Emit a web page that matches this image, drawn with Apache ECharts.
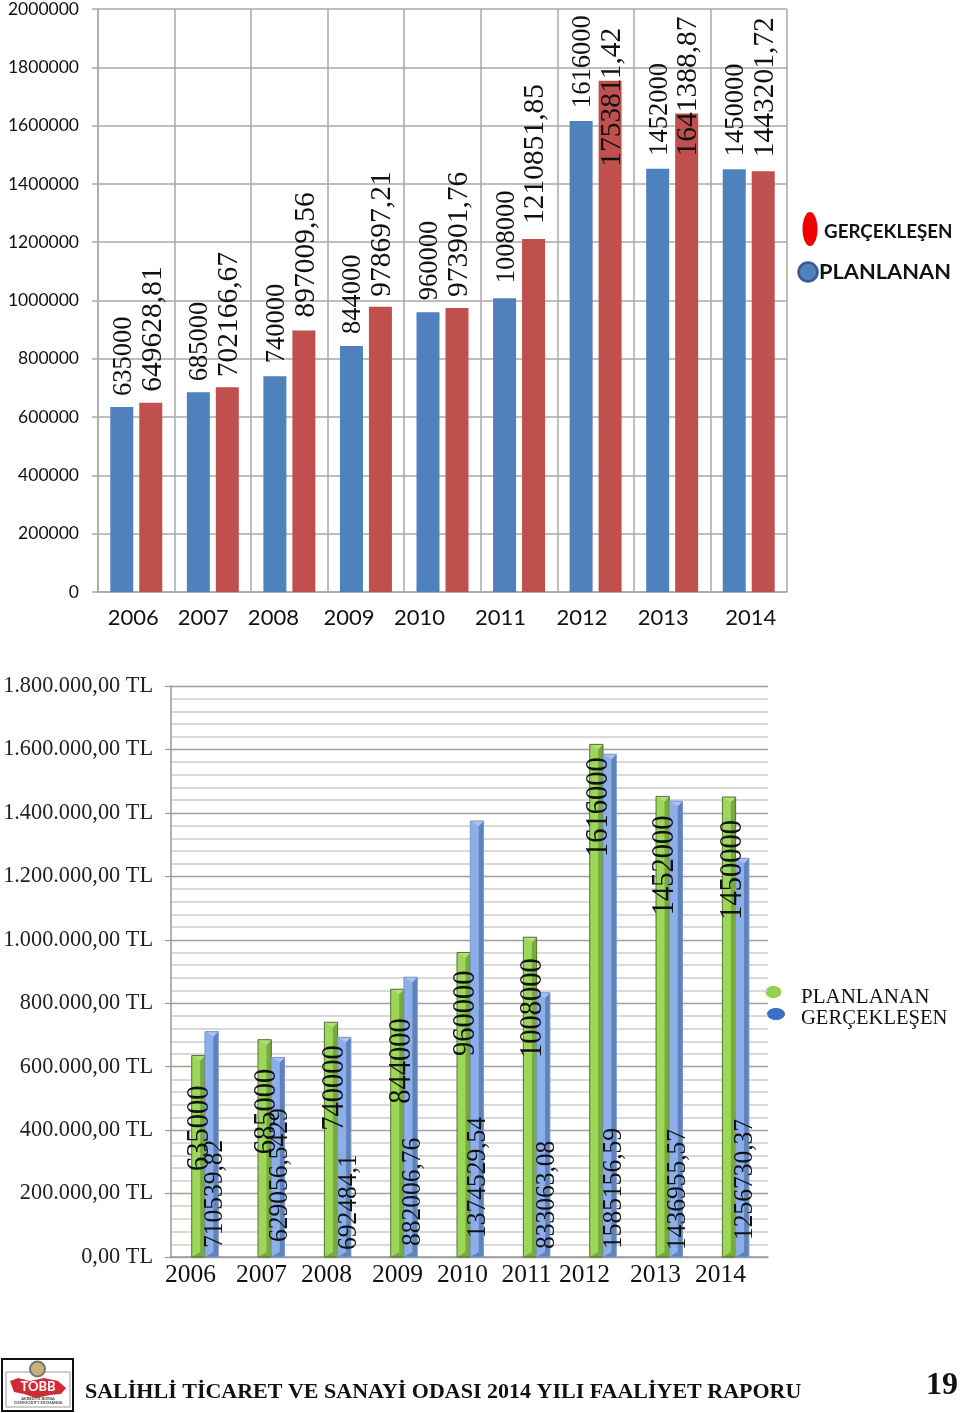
<!DOCTYPE html>
<html><head><meta charset="utf-8">
<style>html,body{margin:0;padding:0;background:#fff}#c{width:960px;height:1413px}</style>
<script src="https://cdn.jsdelivr.net/npm/echarts@6/dist/echarts.min.js"></script>
</head><body><div id="c"></div>
<script>
const years = ['2006','2007','2008','2009','2010','2011','2012','2013','2014'];
const planlananTop = [635000,685000,740000,844000,960000,1008000,1616000,1452000,1450000];
const gerceklesenTop = [649628.81,702166.67,897009.56,978697.21,973901.76,1210851.85,1753811.42,1641388.87,1443201.72];
const planlananBottom = [635000,685000,740000,844000,960000,1008000,1616000,1452000,1450000];
const gerceklesenBottom = [710539.82,629056.5429,692484.1,882006.76,1374529.54,833063.08,1585156.59,1436955.57,1256730.37];

// label placement tweaks (px) copied from the source document
const blueGapTop = [11,11,13,12,12,15,13,13,13];
const redGapTop = [11,10,13,10,11,15,-86,-43,14];
const yearShiftTop = [-3,-9.5,-16,-17,-23,-18.5,-13.5,-9,2];
const yearShiftBottom = [-13.7,-9,-10.3,-5.7,-7,-9.3,-17.7,-13,-14.3];
const greenLabelDrop = [30,29,23,29,18,21,13,19,23];
const greenLabelDx = [0,1,2,3,1,1,1,1,2];
const blueLabelLift = [9,15,7,11,19,8,8,7,17];
const blueLabelDx = [1.5,1,3,0.5,0,2,2.5,1,1];

const SERIF = '"Liberation Serif","Times New Roman",serif';
const commaText = v => String(v).replace('.', ',');
const tlText = v => {
  const s = String(Math.round(v)).replace(/\B(?=(\d{3})+$)/g, '.');
  return s + ',00 TL';
};
const shiftedYears = (shifts) => years.map((y, i) => ({
  value: y,
  textStyle: { padding: shifts[i] < 0 ? [0, -2 * shifts[i], 0, 0] : [0, 0, 0, 2 * shifts[i]] }
}));

function topSeries(name, values, color, gaps, size) {
  return {
    name, type: 'bar', xAxisIndex: 0, yAxisIndex: 0, barWidth: 23, barGap: '26%',
    itemStyle: { color },
    data: values.map((v, i) => ({
      value: v,
      label: {
        show: true, position: 'top', distance: gaps[i], rotate: 90, align: 'left', verticalAlign: 'middle',
        offset: [0, 2], fontFamily: SERIF, fontSize: size, color: '#111', formatter: commaText(v)
      }
    })),
    z: 3
  };
}

function bevelSeries(name, values, pal, side, labelFn) {
  return {
    name, type: 'custom', xAxisIndex: 1, yAxisIndex: 1, silent: true, clip: false,
    data: values.map((v, i) => [i, v]),
    encode: { x: 0, y: 1 },
    renderItem(params, api) {
      const i = api.value(0), v = api.value(1);
      const top = api.coord([i, v]), base = api.coord([i, 0]);
      const w = api.size([1, 0])[0] * 0.2;
      const x0 = (side < 0 ? top[0] - w : top[0]) + 0.8;
      const xm = x0 + w * 0.64, x1 = x0 + w, yT = top[1], yB = base[1], d = 5;
      const lw = { lineWidth: 0 };
      const children = [
        { type: 'rect', shape: { x: x0, y: yT, width: w, height: yB - yT }, style: { fill: pal.face } },
        { type: 'polygon', shape: { points: [[xm, yT + d], [x1, yT], [x1, yB], [xm, yB - d]] }, style: { fill: pal.side, ...lw } },
        { type: 'polygon', shape: { points: [[x0, yT], [x1, yT], [xm, yT + d]] }, style: { fill: pal.top, ...lw } },
        { type: 'polygon', shape: { points: [[x0, yB], [x1, yB], [xm, yB - d]] }, style: { fill: pal.side, ...lw } },
        { type: 'rect', shape: { x: x0, y: yT, width: w, height: yB - yT }, style: { fill: 'none', stroke: pal.line, lineWidth: 1 } }
      ];
      children.push(Object.assign({ type: 'text', rotation: Math.PI / 2, z2: 50 }, labelFn(i, v, x0 + w / 2, yT, yB)));
      return { type: 'group', children };
    },
    z: 3
  };
}

const greenPal = { face: '#9dd75a', side: '#78a93c', top: '#b3df80', line: '#55702f' };
const bluePal = { face: '#8cafec', side: '#5f82ba', top: '#a8c3f0', line: '#7a97c6' };

const gridLine = { lineStyle: { color: '#a8a8a8', width: 1.5 } };

const option = {
  animation: false,
  backgroundColor: '#fff',
  grid: [
    { left: 98, top: 8, width: 689, height: 584 },
    { left: 171, top: 686, width: 597, height: 571 }
  ],
  xAxis: [
    {
      type: 'category', gridIndex: 0, data: shiftedYears(yearShiftTop),
      axisLine: gridLine, axisTick: { show: false },
      splitLine: { show: true, interval: 0, lineStyle: { color: '#a8a8a8', width: 1.5 } },
      axisLabel: { interval: 0, margin: 15, fontFamily: 'Lato', fontSize: 22, color: '#111', hideOverlap: false }
    },
    {
      type: 'category', gridIndex: 1, data: shiftedYears(yearShiftBottom),
      axisLine: { lineStyle: { color: '#9a9a9a', width: 1.5 } }, axisTick: { show: false }, splitLine: { show: false },
      axisLabel: { interval: 0, margin: 5, fontFamily: SERIF, fontSize: 25.5, color: '#111', hideOverlap: false }
    }
  ],
  yAxis: [
    {
      type: 'value', gridIndex: 0, min: 0, max: 2000000, interval: 200000,
      axisLine: { show: true, ...gridLine },
      axisTick: { show: true, length: 6, lineStyle: { color: '#a8a8a8', width: 1.5 } },
      splitLine: { show: true, lineStyle: { color: '#a8a8a8', width: 1.5 } },
      axisLabel: { margin: 19, fontFamily: 'Lato', fontSize: 17.5, color: '#111', formatter: v => String(v) }
    },
    {
      type: 'value', gridIndex: 1, min: 0, max: 1800000, interval: 200000,
      axisLine: { show: true, lineStyle: { color: '#9a9a9a', width: 1.5 } },
      axisTick: { show: true, length: 6, lineStyle: { color: '#9a9a9a', width: 1.2 } },
      minorTick: { show: false, splitNumber: 5 },
      minorSplitLine: { show: true, lineStyle: { color: '#cccccc', width: 1.6 } },
      splitLine: { show: true, lineStyle: { color: '#a0a0a0', width: 1.4 } },
      axisLabel: { margin: 18, fontFamily: SERIF, fontSize: 22.3, color: '#222', formatter: tlText }
    }
  ],
  series: [
    topSeries('PLANLANAN', planlananTop, '#4f81bd', blueGapTop, 26.5),
    topSeries('GERÇEKLEŞEN', gerceklesenTop, '#c0504d', redGapTop, 29.5),
    bevelSeries('PLANLANAN', planlananBottom, greenPal, -1, (i, v, cx, yT) => ({
      x: cx + greenLabelDx[i] + 1.5, y: yT + greenLabelDrop[i], scaleY: 1.1,
      style: { text: String(v), fill: '#111', font: '28.5px ' + SERIF, align: 'right', verticalAlign: 'middle' }
    })),
    bevelSeries('GERÇEKLEŞEN', gerceklesenBottom, bluePal, 1, (i, v, cx, yT, yB) => ({
      x: cx + blueLabelDx[i] + 1.5, y: yB - blueLabelLift[i], scaleY: 1.05,
      style: { text: commaText(v), fill: '#111', font: '25.5px ' + SERIF, align: 'left', verticalAlign: 'middle' }
    }))
  ],
  graphic: [
    // top legend
    { type: 'ellipse', shape: { cx: 810, cy: 229, rx: 7.5, ry: 17 }, style: { fill: '#f00000' } },
    { type: 'text', x: 824, y: 232, style: { text: 'GERÇEKLEŞEN', font: 'bold 18.8px Lato', fill: '#111', verticalAlign: 'middle' } },
    { type: 'circle', shape: { cx: 808, cy: 272, r: 9.5 }, style: { fill: '#4f81bd', stroke: '#385d8a', lineWidth: 2.5 } },
    { type: 'text', x: 819, y: 272, style: { text: 'PLANLANAN', font: 'bold 21.8px Lato', fill: '#111', verticalAlign: 'middle' } },
    // bottom legend
    { type: 'ellipse', shape: { cx: 773.5, cy: 992, rx: 8, ry: 6 }, style: { fill: '#92d050' } },
    { type: 'ellipse', shape: { cx: 776, cy: 1014, rx: 9, ry: 6 }, style: { fill: '#3c6fc4' } },
    { type: 'text', x: 801, y: 997, style: { text: 'PLANLANAN', font: '21px ' + SERIF, fill: '#111', verticalAlign: 'middle' } },
    { type: 'text', x: 801, y: 1019, style: { text: 'GERÇEKLEŞEN', font: '20.6px ' + SERIF, fill: '#111', verticalAlign: 'middle' } },
    // footer badge
    { type: 'rect', shape: { x: 2, y: 1359, width: 71, height: 52 }, style: { fill: '#fff', stroke: '#111', lineWidth: 2 } },
    { type: 'rect', shape: { x: 6, y: 1372, width: 64, height: 35 }, style: { fill: 'none', stroke: '#999', lineWidth: 1 } },
    { type: 'circle', shape: { cx: 37.5, cy: 1369, r: 7.5 }, style: { fill: '#c9b078', stroke: '#6d7a70', lineWidth: 2 } },
    { type: 'polygon', shape: { points: [[10,1381],[18,1378],[30,1381],[44,1378],[58,1381],[66,1388],[61,1394],[50,1395],[36,1398],[24,1394],[14,1392]] }, style: { fill: '#d22b35' } },
    { type: 'text', x: 38, y: 1387, style: { text: 'TOBB', font: 'bold 13px Lato', fill: '#fff', align: 'center', verticalAlign: 'middle' } },
    { type: 'text', x: 38, y: 1399, style: { text: 'AKREDİTE BORSA', font: 'bold 4px Lato', fill: '#444', align: 'center', verticalAlign: 'middle' } },
    { type: 'text', x: 38, y: 1403, style: { text: 'COMMODITY EXCHANGE', font: 'bold 4px Lato', fill: '#444', align: 'center', verticalAlign: 'middle' } },
    // footer text
    { type: 'text', x: 85, y: 1392, style: { text: 'SALİHLİ TİCARET VE SANAYİ ODASI 2014 YILI FAALİYET RAPORU', font: 'bold 22px ' + SERIF, fill: '#111', verticalAlign: 'middle' } },
    { type: 'text', x: 926, y: 1386, style: { text: '19', font: 'bold 32px ' + SERIF, fill: '#111', verticalAlign: 'middle' } }
  ]
};
const chart = echarts.init(document.getElementById('c'), null, { renderer: 'canvas' });
chart.setOption(option);
</script></body></html>
